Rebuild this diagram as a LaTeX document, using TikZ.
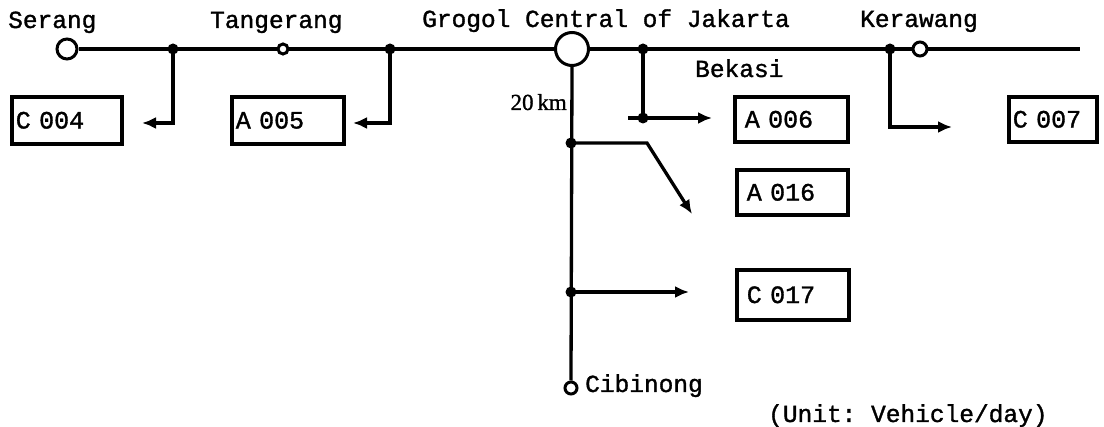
\documentclass[tikz,border=0pt]{standalone}
\usepackage{fontspec}
\setmonofont[FakeBold=1.3]{Liberation Mono}
\newfontfamily\kmfont[FakeBold=1.2]{Liberation Serif}
\usetikzlibrary{arrows.meta}
\tikzset{
  ln/.style={line width=3.3pt},
  arr/.style={ln,-{Latex[length=14pt,width=12pt]}},
  lbl/.style={font=\ttfamily\fontsize{24.5}{28}\selectfont, inner sep=0pt, anchor=base west},
  boxn/.style={draw, line width=3.6pt, anchor=north west, font=\ttfamily\fontsize{25}{28}\selectfont,
    inner xsep=4pt, inner ysep=0pt, align=left},
  dotn/.style={circle, fill, inner sep=0pt, minimum size=11pt},
  stn/.style={circle, draw, line width=3pt, inner sep=0pt, fill=white}
}
\begin{document}
\begin{tikzpicture}[x=1pt,y=-1pt]
\useasboundingbox (0,0) rectangle (1104,427);
% main line
\coordinate (east) at (1080,49);
\node[stn, minimum size=20pt] (serang) at (67,49) {};
\draw[ln] (serang.east) -- (east);
\node[stn, minimum size=10pt] (tang) at (283,49) {};
\node[stn, minimum size=33pt] (grogol) at (572,49) {};
\node[stn, minimum size=14pt] (kera) at (920,49) {};
\node[stn, minimum size=12pt] (cibi) at (571,388) {};
\draw[ln] (grogol.south) -- (cibi.north);
% labels
\node[lbl] (lserang) at (8,28) {Serang};
\node[lbl] (ltang) at (210,28) {Tangerang};
\node[lbl] (lgrogol) at (422,27) {Grogol Central of Jakarta};
\node[lbl] (lkera) at (860,27) {Kerawang};
\node[lbl] (lbek) at (695,77) {Bekasi};
\node[lbl] (lcibi) at (585,392) {Cibinong};
\node[lbl] (lunit) at (768,422) {(Unit: Vehicle/day)};
\node[font=\kmfont\fontsize{23}{26}\selectfont, inner sep=0pt, anchor=base east] (lkm) at (567,110) {20\,km};
% boxes
\node[boxn, minimum width=110pt, minimum height=47pt, text width=102pt] (c004) at (10,95) {C\ 004};
\node[boxn, minimum width=112pt, minimum height=47pt, text width=104pt] (a005) at (230,95) {A\ 005};
\node[boxn, minimum width=113pt, minimum height=45pt, text width=93pt, inner xsep=10pt] (a006) at (733,95) {A\ 006};
\node[boxn, minimum width=88pt, minimum height=45pt, text width=80pt] (c007) at (1007,95) {C\ 007};
\node[boxn, minimum width=111pt, minimum height=45pt, text width=91pt, inner xsep=10pt] (a016) at (735,168) {A\ 016};
\node[boxn, minimum width=112pt, minimum height=50pt, text width=92pt, inner xsep=10pt] (c017) at (735,268) {C\ 017};
% junctions
\node[dotn] (j1) at (173,49) {};
\node[dotn] (j2) at (390,49) {};
\node[dotn] (j3) at (643,49) {};
\node[dotn] (j4) at (890,49) {};
\node[dotn] (j3b) at (643,118) {};
\node[dotn] (g1) at (571,143) {};
\node[dotn] (g2) at (571,292) {};
% arrow ends
\coordinate (t1) at (142,123);
\coordinate (t2) at (353,123);
\coordinate (t3s) at (628,118);
\coordinate (t3) at (712,118);
\coordinate (t4) at (952,127);
\coordinate (t5) at (692,214);
\coordinate (t6) at (689,292);
% connectors
\draw[arr] (j1.center) |- (t1);
\draw[arr] (j2.center) |- (t2);
\draw[ln] (j3.center) -- (j3b.center);
\draw[arr] (t3s) -- (t3);
\draw[arr] (j4.center) |- (t4);
\draw[arr] (g1.center) -- (647,143) -- (t5);
\draw[arr] (g2.center) -- (t6);
\end{tikzpicture}
\end{document}
